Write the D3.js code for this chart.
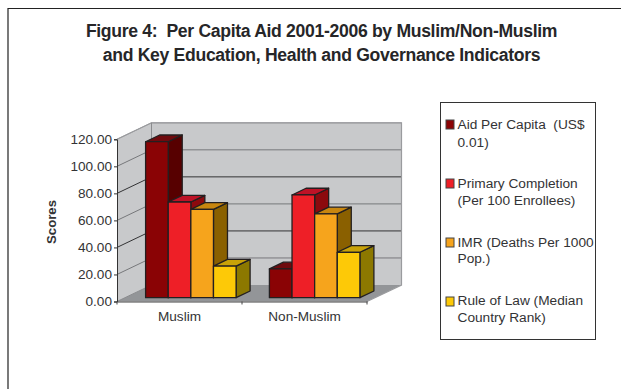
<!DOCTYPE html>
<html><head><meta charset="utf-8">
<script src="https://cdn.jsdelivr.net/npm/d3@7"></script>
<style>html,body{margin:0;padding:0;background:#fff}svg{display:block}text{font-family:"Liberation Sans",Arial,sans-serif;fill:#333335}</style>
</head><body><svg id="c" width="621" height="389"></svg>
<script>
const categories = ["Muslim", "Non-Muslim"];
const seriesNames = ["Aid Per Capita", "Primary Completion", "IMR", "Rule of Law"];
const aidPerCapita = [115.4, 21.3];
const primaryCompletion = [70.8, 76.0];
const imr = [65.4, 62.0];
const ruleOfLaw = [23.4, 33.6];
const yTicks = [0, 20, 40, 60, 80, 100, 120];
const titleLines = ["Figure 4:  Per Capita Aid 2001-2006 by Muslim/Non-Muslim", "and Key Education, Health and Governance Indicators"];
const legendLines = [["Aid Per Capita  (US$", "0.01)"], ["Primary Completion", "(Per 100 Enrollees)"], ["IMR (Deaths Per 1000", "Pop.)"], ["Rule of Law (Median", "Country Rank)"]];
const series = [aidPerCapita, primaryCompletion, imr, ruleOfLaw];
const front = ["#8a0305", "#ee1f27", "#f6a41c", "#fdc907"];
const topFace = ["#6f0a0e", "#be1226", "#c8860f", "#c9a208"];
const side = ["#570000", "#8c0a0e", "#8a6000", "#8c7800"];

const svg = d3.select("#c");
const ink = "#231f20";
// frame
svg.append("path").attr("d", "M8,389V8.5H621").attr("fill", "none").attr("stroke", "#222").attr("stroke-width", 1.2);
// title
const titleY = [37, 61];
svg.selectAll("text.title").data(titleLines).join("text").attr("class", "title")
  .attr("x", 321.5).attr("y", (d, i) => titleY[i]).attr("text-anchor", "middle")
  .attr("font-size", 17.6).attr("font-weight", "bold").attr("letter-spacing", -0.32).style("white-space", "pre").style("fill", "#262628").text(d => d);

// scales
const x = d3.scaleBand().domain(categories).range([117, 367]);
const y = d3.scaleLinear().domain([0, 120]).range([301.5, 139.3]);
const depthX = 34.5, depthY = 16.5;
const bx = d3.scaleBand().domain(seriesNames).range([0, 90.5]);
const barInsetX = 28.6, barShiftY = 3.8, barDX = 14, barDY = 6.7;

// walls
const y0 = y(0), yT = y(120), xL = x.range()[0], xR = x.range()[1];
const wall = svg.append("g");
wall.append("path").attr("d", `M${xL},${y0}L${xL + depthX},${y0 - depthY}L${xL + depthX},${yT - depthY}L${xL},${yT}Z`).attr("fill", "#c8c9cb");
wall.append("rect").attr("x", xL + depthX).attr("y", yT - depthY).attr("width", xR - xL).attr("height", y0 - yT).attr("fill", "#c8c9cb");
wall.append("path").attr("d", `M${xL},${y0}L${xR},${y0}L${xR + depthX},${y0 - depthY}L${xL + depthX},${y0 - depthY}Z`).attr("fill", "#939598");
// grid
yTicks.slice(1).forEach(t => {
  const c = t === 120 ? "#a0a1a4" : (t === 100 || t === 60 || t === 20) ? "#77787b" : "#333335";
  wall.append("path").attr("d", `M${xL},${y(t)}L${xL + depthX},${y(t) - depthY}L${xR + depthX},${y(t) - depthY}`)
    .attr("fill", "none").attr("stroke", c).attr("stroke-width", 1);
});
wall.append("path").attr("d", `M${xL},${yT}L${xL + depthX},${yT - depthY}L${xR + depthX},${yT - depthY}L${xR + depthX},${y0 - depthY}L${xR},${y0}`)
  .attr("fill", "none").attr("stroke", "#9a9b9e").attr("stroke-width", 1.2);
wall.append("path").attr("d", `M${xL + depthX},${yT - depthY}V${y0 - depthY}L${xL},${y0}`).attr("fill", "none").attr("stroke", "#8a8b8e").attr("stroke-width", 1);

// bars
categories.forEach((cat, ci) => {
  const g = svg.append("g");
  seriesNames.forEach((name, si) => {
    const x0 = x(cat) + barInsetX - ci * 1.2 + bx(name), w = bx.bandwidth();
    const x1 = x0 + w, yb = y(0) - barShiftY;
    const yt = y(series[si][ci]) - barShiftY;
    const s = g.append("g").attr("stroke", ink).attr("stroke-width", 1.3).attr("stroke-linejoin", "round");
    s.append("path").attr("d", `M${x1},${yb}L${x1 + barDX},${yb - barDY}L${x1 + barDX},${yt - barDY}L${x1},${yt}Z`).attr("fill", side[si]);
    s.append("path").attr("d", `M${x0},${yt}L${x0 + barDX},${yt - barDY}L${x1 + barDX},${yt - barDY}L${x1},${yt}Z`).attr("fill", topFace[si]);
    s.append("rect").attr("x", x0).attr("y", yt).attr("width", w).attr("height", yb - yt).attr("fill", front[si]);
  });
});

// axes
const yAxis = d3.axisLeft(y).tickValues(yTicks).tickSize(3).tickPadding(2).tickFormat(d3.format(".2f"));
const ga = svg.append("g").attr("transform", `translate(${xL},0)`).call(yAxis);
ga.selectAll("path,line").attr("stroke", "#333").attr("stroke-width", 1);
ga.selectAll("text").attr("font-size", 13.6).style("fill", "#333335").attr("font-family", "Liberation Sans");
const xAxis = d3.axisBottom(x).tickSize(0).tickPadding(10);
const gx = svg.append("g").attr("transform", `translate(0,${y0})`).call(xAxis);
gx.selectAll("path").attr("stroke", "#444").attr("stroke-width", 1);
gx.selectAll("text").attr("font-size", 13.6).style("fill", "#333335").attr("font-family", "Liberation Sans");
svg.append("g").selectAll("line").data([...categories.map(c => x(c)), xR]).join("line")
  .attr("x1", d => d).attr("x2", d => d).attr("y1", y0).attr("y2", y0 + 3).attr("stroke", "#444");

// y title
svg.append("text").attr("transform", "translate(55.5,222) rotate(-90)").attr("text-anchor", "middle")
  .attr("font-size", 13.2).attr("font-weight", "bold").text("Scores");

// legend
svg.append("rect").attr("x", 440.5).attr("y", 102.5).attr("width", 155).attr("height", 237).attr("fill", "#fff").attr("stroke", "#333").attr("stroke-width", 1);
const swatchY = [120, 179, 238, 297];
const lineY = [[129, 147], [188, 205], [247, 263], [305, 322]];
seriesNames.forEach((n, i) => {
  svg.append("rect").attr("x", 446).attr("y", swatchY[i]).attr("width", 8).attr("height", 9).attr("fill", front[i]).attr("stroke", "#444").attr("stroke-width", 1);
  legendLines[i].forEach((t, j) => {
    svg.append("text").attr("x", 457.5).attr("y", lineY[i][j]).attr("font-size", 13.7).style("white-space", "pre").text(t);
  });
});
</script></body></html>
